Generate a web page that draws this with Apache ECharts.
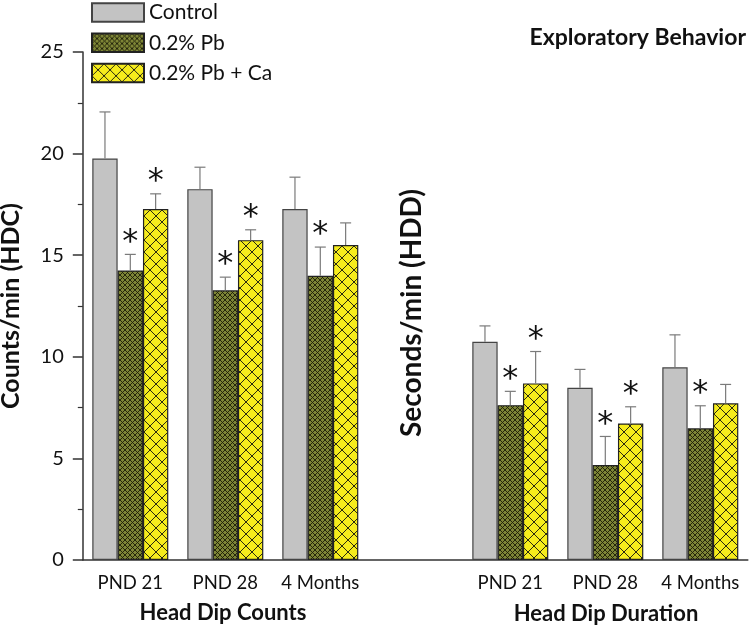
<!DOCTYPE html>
<html><head><meta charset="utf-8">
<script src="https://cdn.jsdelivr.net/npm/echarts@6/dist/echarts.min.js"></script>
<style>html,body{margin:0;padding:0;background:#fff}#c{width:753px;height:627px}</style>
</head><body><div id="c"></div>
<script>
const categories = ['PND 21', 'PND 28', '4 Months', '', 'PND 21', 'PND 28', '4 Months'];
const seriesNames = ['Control', '0.2% Pb', '0.2% Pb + Ca'];
const controlMean = [19.76, 18.25, 17.27, null, 10.74, 8.48, 9.48];
const controlErr  = [22.05, 19.33, 18.84, null, 11.52, 9.38, 11.08];
const pbMean      = [14.25, 13.27, 13.99, null, 7.62, 4.67, 6.48];
const pbErr       = [15.04, 13.92, 15.40, null, 8.30, 6.08, 7.59];
const pbCaMean    = [17.27, 15.74, 15.50, null, 8.69, 6.72, 7.71];
const pbCaErr     = [18.02, 16.25, 16.59, null, 10.26, 7.54, 8.64];
const controlSig  = [0, 0, 0, 0, 0, 0, 0];
const pbSig       = [1, 1, 1, 0, 1, 1, 1];
const pbCaSig     = [1, 1, 0, 0, 1, 1, 0];
const yTicks = [0, 5, 10, 15, 20, 25];
const groupTitles = ['Head Dip Counts', 'Head Dip Duration'];

const FONT = 'Lato, "Open Sans", sans-serif';

function hatch(bg, line, size, lw) {
  const c = document.createElement('canvas');
  c.width = size; c.height = size;
  const ctx = c.getContext('2d');
  ctx.fillStyle = bg; ctx.fillRect(0, 0, size, size);
  ctx.strokeStyle = line; ctx.lineWidth = lw;
  ctx.beginPath();
  for (let k = -1; k <= 1; k++) {
    ctx.moveTo(k * size - 1, -1); ctx.lineTo(k * size + size + 1, size + 1);
    ctx.moveTo(k * size + size + 1, -1); ctx.lineTo(k * size - 1, size + 1);
  }
  ctx.stroke();
  return { image: c, repeat: 'repeat' };
}

const pbPattern = hatch('#7d8536', '#1c1c08', 5, 0.9);
const caPattern = hatch('#f6ec1c', '#2a2a10', 12, 1);

const means = [controlMean, pbMean, pbCaMean];
const errs = [controlErr, pbErr, pbCaErr];
const sigs = [controlSig, pbSig, pbCaSig];
const fills = ['#c3c3c3', pbPattern, caPattern];
const borders = ['#444', '#222', '#222'];

const series = [];
for (let s = 0; s < 3; s++) {
  series.push({
    name: seriesNames[s], type: 'bar', data: means[s],
    barGap: '0%', barCategoryGap: '20%',
    itemStyle: { color: fills[s], borderColor: borders[s], borderWidth: 1.2 },
    emphasis: { disabled: true }, animation: false
  });
}
for (let s = 0; s < 3; s++) {
  const data = [];
  for (let i = 0; i < categories.length; i++) {
    if (means[s][i] == null) continue;
    data.push([i, means[s][i], errs[s][i], sigs[s][i]]);
  }
  series.push({
    type: 'custom', z: 5, animation: false, silent: true,
    data: data,
    renderItem: (function (si) {
      return function (params, api) {
        const x = api.value(0);
        const base = api.coord([x, api.value(1)]);
        const top = api.coord([x, api.value(2)]);
        const catW = api.size([1, 0])[0];
        const bw = catW * 0.8 / 3;
        const cx = base[0] + (si - 1) * bw;
        const children = [
          { type: 'line', shape: { x1: cx, y1: base[1], x2: cx, y2: top[1] }, style: { stroke: '#7a7a7a', lineWidth: 1.2 } },
          { type: 'line', shape: { x1: cx - 5.5, y1: top[1], x2: cx + 5.5, y2: top[1] }, style: { stroke: '#7a7a7a', lineWidth: 1.2 } }
        ];
        if (api.value(3)) {
          children.push({ type: 'text', style: { text: '*', x: cx, y: top[1] + 4, align: 'center', verticalAlign: 'bottom', fontSize: 32, fontFamily: 'DejaVu Sans', fill: '#111' } });
        }
        return { type: 'group', children: children };
      };
    })(s)
  });
}

const chart = echarts.init(document.getElementById('c'), null, { renderer: 'canvas' });
chart.setOption({
  animation: false,
  backgroundColor: '#fff',
  grid: { left: 82.8, right: 5.2, top: 52, bottom: 67, containLabel: false, outerBoundsMode: 'none' },
  legend: {
    orient: 'vertical', left: 91, top: 2, padding: 0, itemWidth: 52, itemHeight: 18.5, itemGap: 9.3,
    icon: 'rect', data: seriesNames, selectedMode: false,
    textStyle: { fontSize: 21, fontFamily: FONT, color: '#111' }
  },
  xAxis: {
    type: 'category', data: categories,
    axisLine: { lineStyle: { color: '#333', width: 1.5 } },
    axisTick: { show: false },
    axisLabel: { fontSize: 18.5, fontFamily: FONT, color: '#111', margin: 14, interval: 0 }
  },
  yAxis: {
    type: 'value', min: 0, max: 25, interval: 5,
    name: 'Counts/min (HDC)', nameLocation: 'middle', nameGap: 59,
    nameTextStyle: { fontSize: 25, fontWeight: 'bold', fontFamily: FONT, color: '#111' },
    axisLine: { show: true, lineStyle: { color: '#333', width: 1.5 } },
    axisTick: { show: true, inside: false, length: 10, lineStyle: { color: '#333', width: 1.5 } },
    minorTick: { show: true, splitNumber: 2, length: 5, lineStyle: { color: '#333', width: 1.2 } },
    splitLine: { show: false },
    axisLabel: { fontSize: 20, fontFamily: FONT, color: '#111', margin: 19,
      formatter: function (v) { return yTicks.indexOf(v) >= 0 ? String(v) : ''; } }
  },
  graphic: [
    { type: 'text', x: 746, y: 38,
      style: { text: 'Exploratory Behavior', align: 'right', verticalAlign: 'middle', fontSize: 23, fontWeight: 'bold', fontFamily: FONT, fill: '#111' } },
    { type: 'text', rotation: Math.PI / 2, x: 412, y: 313,
      style: { text: 'Seconds/min (HDD)', align: 'center', verticalAlign: 'middle', fontSize: 28, fontWeight: 'bold', fontFamily: FONT, fill: '#111' } },
    { type: 'text', x: 223, y: 613,
      style: { text: groupTitles[0], align: 'center', verticalAlign: 'middle', fontSize: 22, fontWeight: 'bold', fontFamily: FONT, fill: '#111' } },
    { type: 'text', x: 606, y: 614,
      style: { text: groupTitles[1], align: 'center', verticalAlign: 'middle', fontSize: 22, fontWeight: 'bold', fontFamily: FONT, fill: '#111' } }
  ],
  series: series
});
</script></body></html>
